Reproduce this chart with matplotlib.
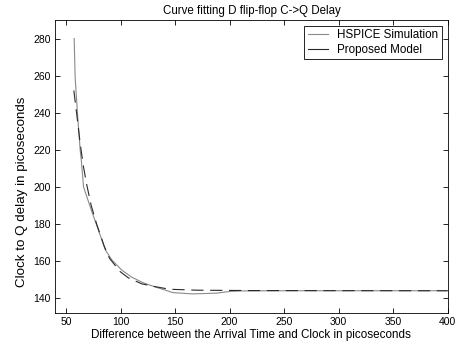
import matplotlib
matplotlib.use("Agg")
import matplotlib.pyplot as plt

plt.rcParams['font.family'] = ['Liberation Sans', 'DejaVu Sans']

# HSPICE simulation
sim_x = [57.4, 58.3, 60.4, 62.9, 64, 66, 70, 74, 78, 86, 92, 101, 110, 120,
         126, 132, 138.5, 148, 166, 188, 200, 210, 250, 400]
sim_y = [280, 259, 240, 220, 214, 200, 193, 186, 179.5, 166, 160.6, 155.2,
         151.4, 148.5, 147.2, 146, 144.8, 143, 142.3, 142.7, 143.6, 143.9,
         144, 144]

# proposed model
mod_x = [57.1, 60, 63, 65.9, 69, 73, 78, 85, 89.8, 99.6, 107, 119.5, 131.8,
         145, 170, 220, 400]
mod_y = [252, 238, 223, 211, 201, 190, 180, 168, 161.5, 154.3, 151, 147.7,
         146.2, 144.8, 144.3, 144.1, 144]

fig = plt.figure(figsize=(4.6, 3.49), dpi=100)
ax = fig.add_axes([0.12, 1 - 313 / 349, 0.853, 293 / 349])

ax.plot(sim_x, sim_y, color="#8a8a8a", lw=0.8, label="HSPICE Simulation")
ax.plot(mod_x, mod_y, color="#2a2a2a", lw=0.8, ls=(0, (11, 6)), label="Proposed Model")

ax.set_xlim(40, 400)
ax.set_ylim(132, 290)
ax.set_xticks(range(50, 401, 50))
ax.set_yticks(range(140, 281, 20))
ax.tick_params(direction="in", length=3.5, labelsize=7.5, top=True, right=True,
               width=0.6, pad=3)
for s in ax.spines.values():
    s.set_linewidth(0.6)

ax.set_title("Curve fitting D flip-flop C->Q Delay", fontsize=8.3, pad=4)
ax.set_xlabel("Difference between the Arrival Time and Clock in picoseconds",
              fontsize=8.4, labelpad=1)
ax.set_ylabel("Clock to Q delay in picoseconds", fontsize=9.6, labelpad=4)
ax.yaxis.set_label_coords(-0.07, 0.415)

leg = ax.legend(loc="upper right", fontsize=8.4, fancybox=False, framealpha=1,
                edgecolor="black", borderaxespad=0.5, handlelength=1.7,
                handletextpad=0.8, labelspacing=0.2, borderpad=0.3)
leg.get_frame().set_linewidth(0.6)
# in the original legend both samples show as plain strokes
leg.get_lines()[1].set_linestyle("-")

fig.savefig("out.png", dpi=100)
